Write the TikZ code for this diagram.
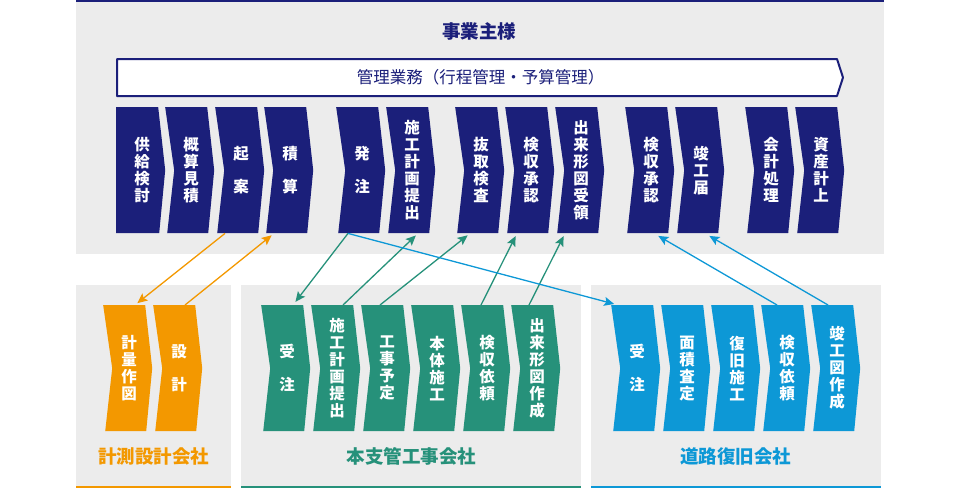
\documentclass[tikz,border=0pt]{standalone}
\usepackage{fontspec}
\usetikzlibrary{arrows.meta}
\newfontfamily\cjk{Noto Sans CJK JP}
\definecolor{navy}{RGB}{27,31,122}
\definecolor{orng}{RGB}{243,152,0}
\definecolor{grn}{RGB}{38,145,122}
\definecolor{blu}{RGB}{13,152,214}
\definecolor{bg}{RGB}{236,236,236}
\tikzset{
	chev/.style={minimum width=52pt,minimum height=126pt,inner sep=0pt,anchor=north west,text=white,align=center,
		font=\cjk\bfseries\fontsize{15.5}{17}\selectfont,
		path picture={\fill[#1] (path picture bounding box.north west) -- ++(42pt,0pt) -- ++(7pt,-63pt) -- ++(-6pt,-63pt) -- ++(-41pt,0pt) -- ++(7pt,63pt) -- cycle;}},
	chevfirst/.style={minimum width=52pt,minimum height=126pt,inner sep=0pt,anchor=north west,text=white,align=center,
		font=\cjk\bfseries\fontsize{15.5}{17}\selectfont,
		path picture={\fill[#1] (path picture bounding box.north west) -- ++(42pt,0pt) -- ++(7pt,-63pt) -- ++(-6pt,-63pt) -- ++(-43pt,0pt) -- cycle;}},
	company/.style={font=\cjk\bfseries\fontsize{18.5}{20}\selectfont}
}
\begin{document}
\begin{tikzpicture}[x=1pt,y=-1pt,>={Stealth[length=10pt,width=9pt,inset=2pt]},line join=round]
	\useasboundingbox (0,0) rectangle (960,488);
	% panels
	\fill[bg] (76,0) rectangle (884,254);
	\draw[navy,line width=2pt] (76,1)--(884,1);
	\fill[bg] (76,285) rectangle (231,488);
	\fill[bg] (241,285) rectangle (581,488);
	\fill[bg] (591,285) rectangle (881,488);
	\fill[orng] (76,485.5) rectangle (231,488);
	\fill[grn] (241,485.5) rectangle (581,488);
	\fill[blu] (591,485.5) rectangle (881,488);
	\node[company,text=navy] (owner) at (479,31) {事業主様};
	\draw[navy,line width=2pt,fill=white] (117,59) -- (837,59) -- (843,77.5) -- (837,96) -- (117,96) -- cycle;
	\node[text=navy,font=\cjk\fontsize{16.5}{18}\selectfont] (kanri) at (480.5,77.5) {管理業務（行程管理・予算管理）};
	% owner steps
	\node[chevfirst=navy] (kyokyu) at (116,107) {供\\給\\検\\討};
	\node[chev=navy] (gaisan) at (165,107) {概\\算\\見\\積};
	\node[chev=navy] (kian) at (215,107) {起\\[16pt]案};
	\node[chev=navy] (sekisan) at (264,107) {積\\[16pt]算};
	\node[chev=navy] (hatchu) at (336,107) {発\\[16pt]注};
	\node[chev=navy] (seko) at (386,107) {施\\工\\計\\画\\提\\出};
	\node[chev=navy] (nukitori) at (455,107) {抜\\取\\検\\査};
	\node[chev=navy] (kenshuA) at (505,107) {検\\収\\承\\認};
	\node[chev=navy] (dekigata) at (555,107) {出\\来\\形\\図\\受\\領};
	\node[chev=navy] (kenshuB) at (625,107) {検\\収\\承\\認};
	\node[chev=navy] (shunko) at (675,107) {竣\\工\\届};
	\node[chev=navy] (kaikei) at (745,107) {会\\計\\処\\理};
	\node[chev=navy] (shisan) at (795,107) {資\\産\\計\\上};
	% survey & design
	\node[chev=orng] (keiryo) at (103,305) {計\\量\\作\\図};
	\node[chev=orng] (sekkei) at (153,305) {設\\[16pt]計};
	\node[company,text=orng] (sokuryo) at (153.5,456) {計測設計会社};
	% pipe works
	\node[chev=grn] (juchuA) at (261,305) {受\\[16pt]注};
	\node[chev=grn] (sekoB) at (311,305) {施\\工\\計\\画\\提\\出};
	\node[chev=grn] (yotei) at (361,305) {工\\事\\予\\定};
	\node[chev=grn] (hontai) at (411,305) {本\\体\\施\\工};
	\node[chev=grn] (iraiA) at (461,305) {検\\収\\依\\頼};
	\node[chev=grn] (sakusei) at (511,305) {出\\来\\形\\図\\作\\成};
	\node[company,text=grn] (kanko) at (411.5,456) {本支管工事会社};
	% road restoration
	\node[chev=blu] (juchuB) at (611,305) {受\\[16pt]注};
	\node[chev=blu] (menseki) at (661,305) {面\\積\\査\\定};
	\node[chev=blu] (fukkyu) at (711,305) {復\\旧\\施\\工};
	\node[chev=blu] (iraiB) at (761,305) {検\\収\\依\\頼};
	\node[chev=blu] (shunkozu) at (811,305) {竣\\工\\図\\作\\成};
	\node[company,text=blu] (doro) at (735.5,456) {道路復旧会社};
	% connectors
	\draw[orng,line width=1.3pt,->,shorten >=3pt] ([xshift=10pt]kian.south west) -- ([xshift=32pt]keiryo.north west);
	\draw[orng,line width=1.3pt,->,shorten >=3pt] ([xshift=32pt]sekkei.north west) -- ([xshift=10pt]sekisan.south west);
	\draw[grn,line width=1.3pt,->,shorten >=4pt] ([xshift=12pt]hatchu.south west) -- ([xshift=32pt]juchuA.north west);
	\draw[grn,line width=1.3pt,->,shorten >=3pt] ([xshift=32pt]sekoB.north west) -- ([xshift=32pt]seko.south west);
	\draw[grn,line width=1.3pt,->,shorten >=3pt] ([xshift=19pt]yotei.north west) -- ([xshift=15pt]nukitori.south west);
	\draw[grn,line width=1.3pt,->,shorten >=3pt] ([xshift=20pt]iraiA.north west) -- ([xshift=12pt]kenshuA.south west);
	\draw[grn,line width=1.3pt,->,shorten >=3pt] ([xshift=18pt]sakusei.north west) -- ([xshift=10pt]dekigata.south west);
	\draw[blu,line width=1.3pt,->,shorten >=4pt] ([xshift=12pt]hatchu.south west) -- ([xshift=7pt]juchuB.north west);
	\draw[blu,line width=1.3pt,->,shorten >=5pt] ([xshift=16pt]iraiB.north west) -- ([xshift=29pt]kenshuB.south west);
	\draw[blu,line width=1.3pt,->,shorten >=5pt] ([xshift=17pt]shunkozu.north west) -- ([xshift=30pt]shunko.south west);
\end{tikzpicture}
\end{document}
